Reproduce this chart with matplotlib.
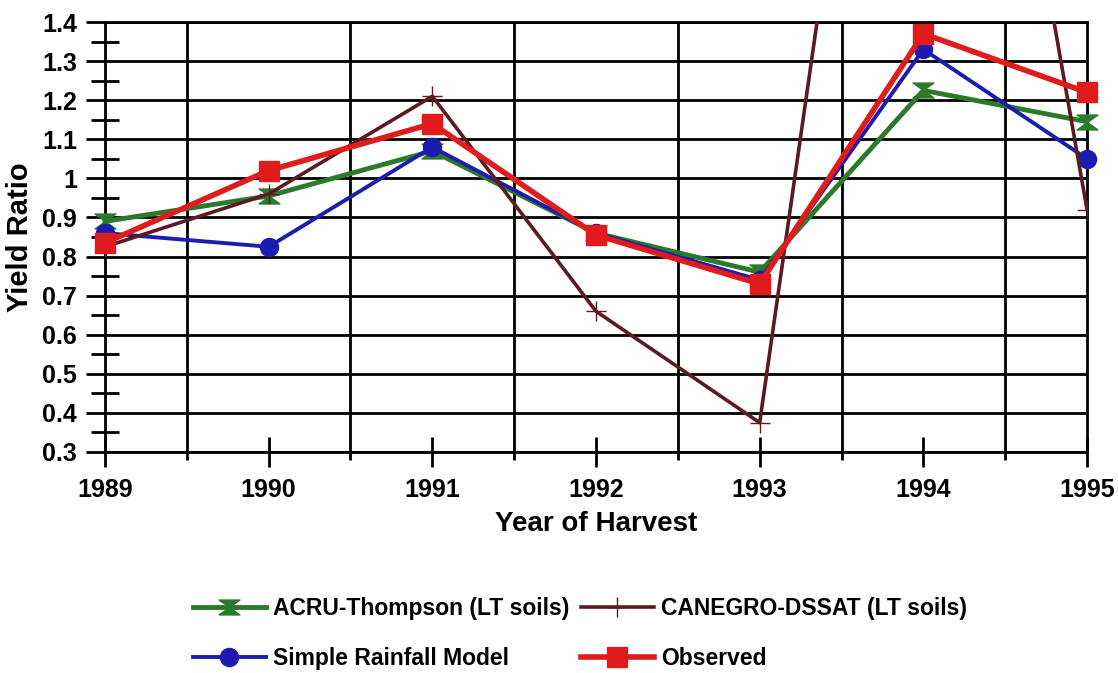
import numpy as np
import matplotlib.pyplot as plt
from matplotlib.path import Path
from matplotlib.ticker import MultipleLocator, FuncFormatter

plt.rcParams['font.family'] = ['Liberation Sans', 'DejaVu Sans']
plt.rcParams['font.weight'] = 'bold'

# Yield ratio per harvest year
years = [1989, 1990, 1991, 1992, 1993, 1994, 1995]
acru = [0.89, 0.955, 1.07, 0.86, 0.76, 1.225, 1.145]
canegro = [0.825, 0.96, 1.21, 0.66, 0.375, 3.3, 0.92]
simple = [0.86, 0.825, 1.08, 0.86, 0.74, 1.33, 1.05]
observed = [0.835, 1.02, 1.14, 0.855, 0.73, 1.37, 1.22]

labels = ['ACRU-Thompson (LT soils)', 'Simple Rainfall Model',
          'CANEGRO-DSSAT (LT soils)', 'Observed']

# hourglass marker like the Excel one
hourglass = Path([(-1.4, 1), (1.4, 1), (-1.4, -1), (1.4, -1), (-1.4, 1)],
                 [Path.MOVETO, Path.LINETO, Path.LINETO, Path.LINETO, Path.CLOSEPOLY])

fig = plt.figure(figsize=(11.18, 6.73), dpi=100)
ax = fig.add_axes([0.0939, 0.3284, 0.8784, 0.6389])

ax.plot(years, acru, color='#2b7a2b', lw=3.5, marker=hourglass, ms=15,
        clip_on=False, zorder=3, label=labels[0])
ax.plot(years, simple, color='#1c1cb0', lw=2.8, marker='o', ms=13,
        clip_on=False, zorder=4, label=labels[1])
ax.plot(years, canegro, color='#5c1a22', lw=2.6, marker='+', ms=14, mew=1,
        zorder=5, label=labels[2])
ax.plot(years, observed, color='#e01b1b', lw=4, marker='s', ms=15,
        clip_on=False, zorder=6, label=labels[3])

ax.set_xlim(1989, 1995)
ax.set_ylim(0.3, 1.4)

# gridlines at half years, year ticks crossing the axis
ax.set_xticks(years)
ax.set_xticks([y + 0.5 for y in years[:-1]], minor=True)
ax.grid(which='minor', axis='x', color='black', lw=2)
ax.tick_params(axis='x', which='major', direction='inout', length=22, width=2,
               pad=8, labelsize=18)
ax.tick_params(axis='x', which='minor', direction='out', length=6, width=2)

ax.yaxis.set_major_locator(MultipleLocator(0.1))
ax.yaxis.set_minor_locator(MultipleLocator(0.05))
ax.yaxis.set_major_formatter(FuncFormatter(lambda v, p: '1' if abs(v - 1) < 1e-9 else f'{v:.1f}'))
ax.grid(which='major', axis='y', color='black', lw=2)
ax.tick_params(axis='y', which='major', direction='out', length=14, width=2,
               pad=6, labelsize=18)
ax.tick_params(axis='y', which='minor', direction='inout', length=20, width=2)

for s in ax.spines.values():
    s.set_linewidth(2)

ax.set_xlabel('Year of Harvest', fontsize=20, fontweight='bold', labelpad=6)
ax.set_ylabel('Yield Ratio', fontsize=21, fontweight='bold', labelpad=6)

fig.legend(loc='upper left', bbox_to_anchor=(0.164, 0.127), ncol=2,
           frameon=False, fontsize=16.5, handlelength=3.2, labelspacing=1.2,
           columnspacing=0.5, handletextpad=0.3, borderaxespad=0)

fig.savefig('out.png', dpi=100)
